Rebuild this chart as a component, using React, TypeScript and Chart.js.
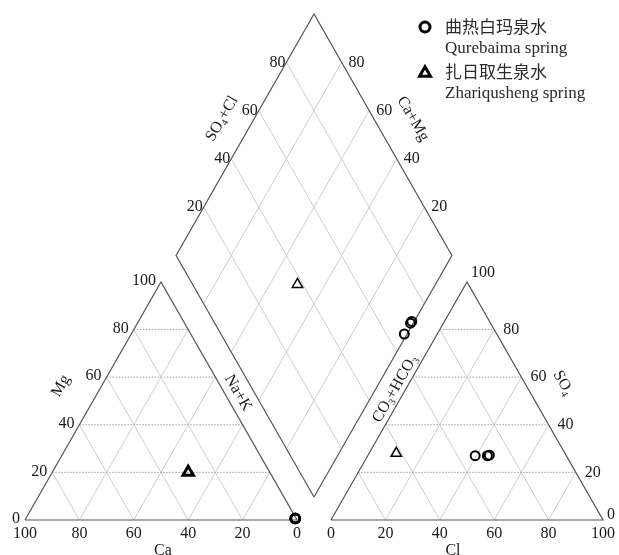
import React, { useEffect, useRef } from 'react';
import { Chart, registerables } from 'chart.js';

Chart.register(...registerables);

// ---------------- Data ----------------
const seriesNames = ['曲热白玛泉水', '扎日取生泉水'];
const seriesNamesEn = ['Qurebaima spring', 'Zhariqusheng spring'];
// Qurebaima spring (meq %)
const qurebaimaCa = [0.4, 0.3, 0.3];
const qurebaimaMg = [0.6, 0.7, 0.6];
const qurebaimaCl = [39.5, 44.0, 44.6];
const qurebaimaSO4 = [27.0, 27.0, 27.2];
// Zhariqusheng spring (meq %)
const zhariCa = [30];
const zhariMg = [20];
const zhariCl = [10];
const zhariSO4 = [28];
// Ticks
const tickValues = [0, 20, 40, 60, 80, 100];
const gridLevels = [20, 40, 60, 80];

// ---------------- Layout ----------------
const W = 619;
const H = 555;
const PX0 = 25; // pixel of left-triangle origin
const PY0 = 520;
const SX = 2.72; // px per unit
const SY = 2.75;
const SIN60 = Math.sqrt(3) / 2;
const GAP = 12.5;
const RX = 100 + GAP;
const DB = { x: 106.25, y: 8.36 };
const DS = 101.4;

type P = { x: number; y: number };
function cationPt(ca: number, mg: number): P {
  const nak = 100 - ca - mg;
  return { x: nak + mg / 2, y: mg * SIN60 };
}
function anionPt(cl: number, so4: number): P {
  return { x: RX + cl + so4 / 2, y: so4 * SIN60 };
}
function diamondPt(c: number, a: number): P {
  return { x: DB.x + (DS * (a - c)) / 200, y: DB.y + (DS * SIN60 * (a + c)) / 100 };
}

const FAMILY = '"Liberation Serif", "Times New Roman", serif';
const CJK = '"Noto Sans CJK SC", sans-serif';
const TEXT = '#1a1a1a';

function seg(p1: P, p2: P, kind: 'dot' | 'diag' | 'outline'): any {
  const base: any = {
    type: 'scatter',
    data: [p1, p2],
    showLine: true,
    pointRadius: 0,
    borderWidth: 1,
    order: 3,
    fill: false,
  };
  if (kind === 'dot') {
    base.borderColor = '#a0a0a0';
    base.borderDash = [1.5, 1.5];
  } else if (kind === 'diag') {
    base.borderColor = '#cdcdcd';
  } else {
    base.borderColor = '#555555';
    base.borderWidth = 1.2;
    base.order = 2;
  }
  return base;
}

function poly(pts: P[]): any {
  return {
    type: 'scatter',
    data: [...pts, pts[0]],
    showLine: true,
    pointRadius: 0,
    borderColor: '#555555',
    borderWidth: 1.2,
    order: 2,
    fill: false,
  };
}

function buildDatasets(): any[] {
  const ds: any[] = [];
  gridLevels.forEach((k) => {
    // left triangle
    ds.push(seg(cationPt(100 - k, k), cationPt(0, k), 'dot'));
    ds.push(seg(cationPt(k, 100 - k), cationPt(k, 0), 'diag'));
    ds.push(seg(cationPt(100 - k, 0), cationPt(0, 100 - k), 'diag'));
    // right triangle
    ds.push(seg(anionPt(0, k), anionPt(100 - k, k), 'dot'));
    ds.push(seg(anionPt(k, 0), anionPt(k, 100 - k), 'diag'));
    ds.push(seg(anionPt(100 - k, 0), anionPt(0, 100 - k), 'diag'));
    // diamond
    ds.push(seg(diamondPt(k, 0), diamondPt(k, 100), 'diag'));
    ds.push(seg(diamondPt(0, k), diamondPt(100, k), 'diag'));
  });
  ds.push(poly([cationPt(100, 0), cationPt(0, 0), cationPt(0, 100)]));
  ds.push(poly([anionPt(0, 0), anionPt(100, 0), anionPt(0, 100)]));
  ds.push(poly([diamondPt(0, 0), diamondPt(100, 0), diamondPt(100, 100), diamondPt(0, 100)]));

  const qCat = qurebaimaCa.map((ca, i) => cationPt(ca, qurebaimaMg[i]));
  const qAn = qurebaimaCl.map((cl, i) => anionPt(cl, qurebaimaSO4[i]));
  const qDia = qurebaimaCa.map((ca, i) =>
    diamondPt(ca + qurebaimaMg[i], qurebaimaCl[i] + qurebaimaSO4[i])
  );
  const zCat = zhariCa.map((ca, i) => cationPt(ca, zhariMg[i]));
  const zAn = zhariCl.map((cl, i) => anionPt(cl, zhariSO4[i]));
  const zDia = zhariCa.map((ca, i) => diamondPt(ca + zhariMg[i], zhariCl[i] + zhariSO4[i]));

  const mk = (data: P[], style: string, r: number, bw: number, label: string) => ({
    type: 'scatter',
    label,
    data,
    pointStyle: style,
    pointRadius: r,
    pointBorderWidth: bw,
    pointBorderColor: '#000000',
    pointBackgroundColor: 'rgba(0,0,0,0)',
    showLine: false,
    order: 0,
  });
  ds.push(mk(qCat, 'circle', 4.5, 2.6, seriesNames[0]));
  ds.push(mk(qAn, 'circle', 4.5, 2, seriesNames[0]));
  ds.push(mk(qDia, 'circle', 4.5, 2, seriesNames[0]));
  ds.push(mk(zCat, 'triangle', 6, 3, seriesNames[1]));
  ds.push(mk(zAn, 'triangle', 6, 1.5, seriesNames[1]));
  ds.push(mk(zDia, 'triangle', 6, 1.5, seriesNames[1]));
  return ds;
}

type Segm = { t: string; sub?: boolean };
type Label = {
  p: P;
  dx: number;
  dy: number;
  segs: Segm[];
  align: 'left' | 'right' | 'center';
  rot: number;
};

const DEG = Math.PI / 180;

function buildLabels(): Label[] {
  const L: Label[] = [];
  tickValues.forEach((k) => {
    L.push({ p: cationPt(k, 0), dx: 0, dy: 14, segs: [{ t: String(k) }], align: 'center', rot: 0 });
    L.push({ p: cationPt(100 - k, k), dx: -5, dy: -1, segs: [{ t: String(k) }], align: 'right', rot: 0 });
    L.push({ p: anionPt(k, 0), dx: 0, dy: 14, segs: [{ t: String(k) }], align: 'center', rot: 0 });
    const edge = k === 0 || k === 100;
    L.push({
      p: anionPt(100 - k, k),
      dx: edge ? 4 : 9,
      dy: k === 100 ? -9 : k === 0 ? -5 : 0,
      segs: [{ t: String(k) }],
      align: 'left',
      rot: 0,
    });
  });
  gridLevels.forEach((k) => {
    L.push({ p: diamondPt(100, k), dx: -1, dy: 0, segs: [{ t: String(k) }], align: 'right', rot: 0 });
    L.push({ p: diamondPt(k, 100), dx: 7, dy: 0, segs: [{ t: String(k) }], align: 'left', rot: 0 });
  });
  // axis titles
  L.push({ p: cationPt(50, 0), dx: 2, dy: 31, segs: [{ t: 'Ca' }], align: 'center', rot: 0 });
  L.push({ p: cationPt(50, 50), dx: -32, dy: -15, segs: [{ t: 'Mg' }], align: 'center', rot: -60 * DEG });
  L.push({ p: cationPt(0, 50), dx: 9, dy: -8, segs: [{ t: 'Na+K' }], align: 'center', rot: 60 * DEG });
  L.push({ p: anionPt(50, 0), dx: -14, dy: 31, segs: [{ t: 'Cl' }], align: 'center', rot: 0 });
  L.push({
    p: anionPt(50, 50),
    dx: 28,
    dy: -18,
    segs: [{ t: 'SO' }, { t: '4', sub: true }],
    align: 'center',
    rot: 60 * DEG,
  });
  L.push({
    p: anionPt(0, 50),
    dx: -4,
    dy: -12,
    segs: [{ t: 'CO' }, { t: '3', sub: true }, { t: '+HCO' }, { t: '3', sub: true }],
    align: 'center',
    rot: -60 * DEG,
  });
  L.push({
    p: diamondPt(100, 50),
    dx: -23,
    dy: -16,
    segs: [{ t: 'SO' }, { t: '4', sub: true }, { t: '+Cl' }],
    align: 'center',
    rot: -60 * DEG,
  });
  L.push({ p: diamondPt(50, 100), dx: 30, dy: -16, segs: [{ t: 'Ca+Mg' }], align: 'center', rot: 60 * DEG });
  return L;
}

function drawRich(
  ctx: CanvasRenderingContext2D,
  segs: Segm[],
  x: number,
  y: number,
  rot: number,
  align: string,
  size: number
) {
  ctx.save();
  ctx.translate(x, y);
  ctx.rotate(rot);
  ctx.fillStyle = TEXT;
  ctx.textBaseline = 'middle';
  ctx.textAlign = 'left';
  const subSize = Math.round(size * 0.62);
  const widths = segs.map((s) => {
    ctx.font = `${s.sub ? subSize : size}px ${FAMILY}`;
    return ctx.measureText(s.t).width;
  });
  const total = widths.reduce((a, b) => a + b, 0);
  let cx = align === 'center' ? -total / 2 : align === 'right' ? -total : 0;
  segs.forEach((s, i) => {
    ctx.font = `${s.sub ? subSize : size}px ${FAMILY}`;
    ctx.fillText(s.t, cx, s.sub ? size * 0.3 : 0);
    cx += widths[i];
  });
  ctx.restore();
}

const labelPlugin = {
  id: 'piperLabels',
  afterDatasetsDraw(chart: any) {
    const ctx: CanvasRenderingContext2D = chart.ctx;
    const xs = chart.scales.x;
    const ys = chart.scales.y;
    buildLabels().forEach((l) => {
      const px = xs.getPixelForValue(l.p.x) + l.dx;
      const py = ys.getPixelForValue(l.p.y) + l.dy;
      drawRich(ctx, l.segs, px, py, l.rot, l.align, 16);
    });
    // legend
    ctx.save();
    ctx.strokeStyle = '#000';
    ctx.lineWidth = 3;
    ctx.beginPath();
    ctx.arc(425, 27, 5, 0, Math.PI * 2);
    ctx.stroke();
    const tr = 6.3;
    const cy = 73;
    ctx.beginPath();
    for (let i = 0; i < 3; i++) {
      const a = (i * 2 * Math.PI) / 3;
      const X = 425 + Math.sin(a) * tr;
      const Y = cy - Math.cos(a) * tr;
      if (i === 0) ctx.moveTo(X, Y);
      else ctx.lineTo(X, Y);
    }
    ctx.closePath();
    ctx.lineJoin = 'miter';
    ctx.stroke();
    ctx.fillStyle = '#2a2a2a';
    ctx.textAlign = 'left';
    ctx.textBaseline = 'middle';
    ctx.font = `17px ${CJK}`;
    ctx.fillText(seriesNames[0], 445, 27);
    ctx.fillText(seriesNames[1], 445, 72);
    ctx.font = `17px ${FAMILY}`;
    ctx.fillText(seriesNamesEn[0], 445, 49);
    ctx.fillText(seriesNamesEn[1], 445, 94);
    ctx.restore();
  },
};

export default function App() {
  const ref = useRef<HTMLCanvasElement>(null);
  useEffect(() => {
    document.body.style.margin = '0';
    const canvas = ref.current;
    if (!canvas) return;
    const chart = new Chart(canvas, {
      type: 'scatter',
      data: { datasets: buildDatasets() },
      options: {
        animation: false,
        responsive: false,
        maintainAspectRatio: false,
        events: [],
        layout: { padding: 0, autoPadding: false },
        plugins: { legend: { display: false }, tooltip: { enabled: false } },
        scales: {
          x: { type: 'linear', display: false, min: -PX0 / SX, max: (W - PX0) / SX },
          y: { type: 'linear', display: false, min: -(H - PY0) / SY, max: PY0 / SY },
        },
      } as any,
      plugins: [labelPlugin],
    } as any);
    return () => chart.destroy();
  }, []);
  return (
    <div style={{ position: 'absolute', left: 0, top: 0, width: W, height: H, background: '#fff' }}>
      <canvas ref={ref} width={W} height={H} style={{ display: 'block', width: W, height: H }} />
    </div>
  );
}
